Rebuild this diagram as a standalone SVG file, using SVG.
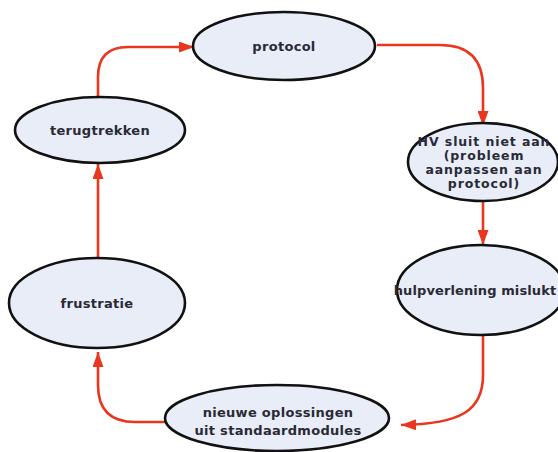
<svg xmlns="http://www.w3.org/2000/svg" width="558" height="452" viewBox="0 0 558 452">
<defs>
<style>
.node ellipse{fill:#e8edf7;stroke:#111;stroke-width:2.6}
.node text{font-family:"DejaVu Sans",Verdana,sans-serif;font-weight:bold;font-size:13px;letter-spacing:0.3px;fill:#2a2a36;text-anchor:middle}
#hv text{font-size:12.5px;letter-spacing:0.9px}
#hulpverlening text{letter-spacing:0.1px}
.edge{fill:none;stroke:#e8361f;stroke-width:2.6;marker-end:url(#ah)}
</style>
<marker id="ah" markerUnits="userSpaceOnUse" markerWidth="15" markerHeight="11" refX="15" refY="5.5" orient="auto">
<path d="M0,0 L15,5.5 L0,11 z" fill="#e8361f"/>
</marker>
</defs>
<rect width="558" height="452" fill="#ffffff"/>
<g id="connectors">
<path class="edge" d="M377,45 L440,45 Q483,45 483,88 L483,126"/>
<path class="edge" d="M483,201 L483,245"/>
<path class="edge" d="M483,335 L483,375 C483,410 462,424 401,425"/>
<path class="edge" d="M165,422 L135,422 Q98,422 98,385 L98,352"/>
<path class="edge" d="M98,258 L98,164"/>
<path class="edge" d="M98,96 L98,77 Q98,47 128,47 L194,47"/>
</g>
<g id="protocol" class="node">
<ellipse cx="284" cy="46" rx="91" ry="34"/>
<text x="284" y="51">protocol</text>
</g>
<g id="hv" class="node">
<ellipse cx="483" cy="162" rx="75" ry="39"/>
<text x="484" y="146">HV sluit niet aan</text>
<text x="484" y="160">(probleem</text>
<text x="484" y="174">aanpassen aan</text>
<text x="484" y="188">protocol)</text>
</g>
<g id="hulpverlening" class="node">
<ellipse cx="481" cy="290" rx="84" ry="45"/>
<text x="475" y="295">hulpverlening mislukt</text>
</g>
<g id="nieuwe" class="node">
<ellipse cx="277" cy="418" rx="112" ry="33"/>
<text x="278" y="417">nieuwe oplossingen</text>
<text x="278" y="435">uit standaardmodules</text>
</g>
<g id="frustratie" class="node">
<ellipse cx="97" cy="303" rx="88" ry="45"/>
<text x="97" y="308">frustratie</text>
</g>
<g id="terugtrekken" class="node">
<ellipse cx="100" cy="130" rx="85" ry="33"/>
<text x="100" y="135">terugtrekken</text>
</g>
</svg>
